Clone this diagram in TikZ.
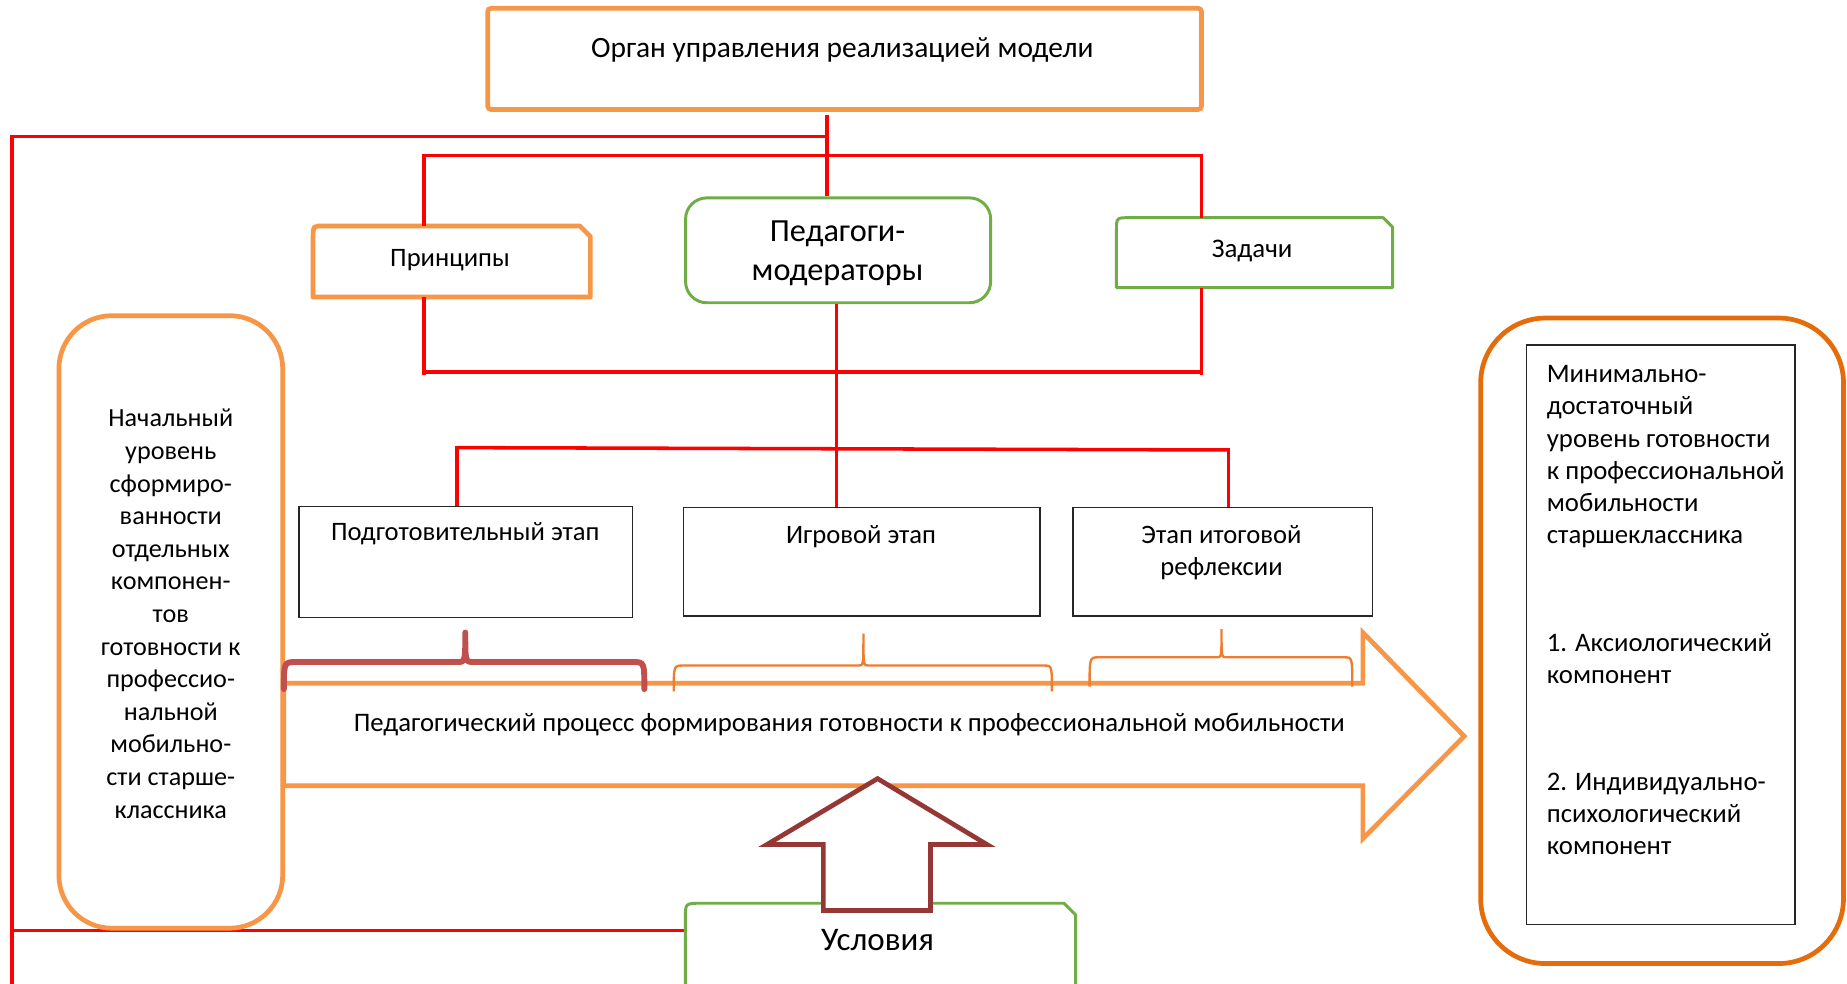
\documentclass[tikz,border=0pt]{standalone}
\usepackage{fontspec}
\setmainfont{Carlito}
\usetikzlibrary{calc}
\definecolor{orng}{HTML}{F79646}
\definecolor{dorng}{HTML}{E46C0A}
\definecolor{brc}{HTML}{ED7D31}
\definecolor{grn}{HTML}{70AD47}
\definecolor{rbrace}{HTML}{C0504D}
\definecolor{darr}{HTML}{953735}
\newcommand\snipoutline[4]{%
  \draw[#2] (#1.south west) -- ($(#1.north west)+(0,#3)$) .. controls (#1.north west) .. ($(#1.north west)+(#3,0)$)
    -- ($(#1.north east)+(-#4,0)$) -- ($(#1.north east)+(0,#4)$) -- (#1.south east) -- cycle;}
\newcommand\fs[2]{\fontsize{#1}{#2}\selectfont}
\tikzset{
  redl/.style={draw=red, line width=3pt},
  obox/.style={draw=orng, line width=4pt},
  gline/.style={draw=grn, line width=2.5pt, line join=round},
  kbox/.style={rectangle, draw=black!85, line width=1.2pt, inner sep=0pt},
  shapebox/.style={rectangle, inner sep=0pt},
  txt/.style={inner sep=0pt, align=center, text=black},
}
\begin{document}
\begin{tikzpicture}[x=1pt,y=-1pt]
\useasboundingbox (0,0) rectangle (1568,835);
\fill[white] (0,0) rectangle (1568,835);

% ---- top box
\node[shapebox, obox, rounded corners=3pt, minimum width=606pt, minimum height=86pt] (org) at (717,50) {};
\node[txt, font=\fs{25}{30}] (orgt) at (715,42) {Орган управления реализацией модели};

% ---- second row boxes
\node[shapebox, minimum width=235pt, minimum height=60pt] (pri) at (383.5,222) {};
\snipoutline{pri}{draw=orng, line width=4pt, line join=round}{9}{9}
\node[txt, font=\fs{22.6}{27}] (prit) at (382,221) {Принципы};

\node[shapebox, draw=grn, line width=2.5pt, rounded corners=18pt, minimum width=259pt, minimum height=89pt] (ped) at (711.5,212.5) {};
\node[txt, font=\fs{27.4}{33}] (pedt) at (711,215) {Педагоги-\\модераторы};

\node[shapebox, minimum width=234pt, minimum height=59pt] (zad) at (1065,214.5) {};
\snipoutline{zad}{gline}{11}{8}
\node[txt, font=\fs{22.8}{27}] (zadt) at (1063,213) {Задачи};

% ---- stage boxes
\node[kbox, minimum width=283pt, minimum height=94pt] (pod) at (395.5,477) {};
\node[txt, font=\fs{22.6}{27}, anchor=center] (podt) at (395,453) {Подготовительный этап};
\node[kbox, minimum width=303pt, minimum height=92pt] (igr) at (731.5,477) {};
\node[txt, font=\fs{22.6}{27}] (igrt) at (731,456) {Игровой этап};
\node[kbox, minimum width=254pt, minimum height=92pt] (itg) at (1038,477) {};
\node[txt, font=\fs{22.6}{27}] (itgt) at (1037,469.5) {Этап итоговой\\рефлексии};

% ---- conditions box (outline drawn later)
\node[shapebox, minimum width=331pt, minimum height=113pt] (usl) at (747.5,823.5) {};

% ---- red connectors
\coordinate (xc) at (702,0);
\coordinate (xl) at (10,0);
\coordinate (xp) at (360,0);
\coordinate (xz) at (1020,0);
\coordinate (xm) at (710,0);
\coordinate (xa) at (388,0);
\coordinate (xb) at (1043,0);
\coordinate (t0) at (702,98);
\coordinate (hl) at (10,116);
\coordinate (hb) at (10,790);
\coordinate (bot) at (10,840);
\draw[redl] (t0) -- (ped.north -| xc);
\draw[redl] (702,116) -- (hl) -- (bot);
\draw[redl] (hb) -- (usl.west |- hb);
\draw[redl] (pri.north -| xp) -- (360,132) -- (1020,132) -- (zad.north -| xz);
\draw[redl] (pri.south -| xp) -- (360,318);
\draw[redl] (360,316) -- (1020,316);
\draw[redl] (zad.south -| xz) -- (1020,318);
\draw[redl] (ped.south -| xm) -- (igr.north -| xm);
\draw[redl] (388,380) -- (1043,382);
\draw[redl] (388,378.5) -- (pod.north -| xa);
\draw[redl] (1043,380.5) -- (itg.north -| xb);

% ---- big process arrow
\draw[orng, line width=4pt, line join=miter] (241,580) -- (1157,580) -- (1157,537) -- (1243,625) -- (1157,712) -- (1157,667) -- (241,667) -- cycle;
\node[txt, font=\fs{22.7}{27}] (proc) at (721,615) {Педагогический процесс формирования готовности к профессиональной мобильности};

% ---- left box
\node[shapebox, draw=orng, line width=4pt, rounded corners=45pt, minimum width=190pt, minimum height=520pt] (lbox) at (145,528) {};
\node[txt, font=\fs{22.2}{27.67}] (lboxt) at (145,521) {Начальный\\уровень\\сформиро-\\ванности\\отдельных\\компонен-\\тов\\готовности к\\профессио-\\нальной\\мобильно-\\сти старше-\\классника};

% ---- braces
\draw[rbrace, line width=5pt, line cap=round, line join=round]
  (241,585) .. controls (241,562) .. (252,562) -- (388,562) .. controls (395,562) .. (395,537)
  .. controls (395,562) .. (402,562) -- (537,562) .. controls (547,562) .. (547,585);
\draw[brc, line width=2pt]
  (572,587) .. controls (572,565) .. (580,565) -- (729,565) .. controls (733,565) .. (733,538)
  .. controls (733,565) .. (737,565) -- (886,565) .. controls (893,565) .. (893,587);
\draw[brc, line width=2pt]
  (925,583) .. controls (925,558) .. (933,558) -- (1033,558) .. controls (1037,558) .. (1037,534)
  .. controls (1037,558) .. (1041,558) -- (1141,558) .. controls (1148,558) .. (1148,583);

% ---- conditions box and up arrow
\snipoutline{usl}{gline}{13}{10}
\draw[darr, line width=4pt, fill=white, line join=miter] (745,661) -- (838,717) -- (790,717) -- (790,773) -- (699,773) -- (699,717) -- (651,717) -- cycle;
\node[txt, font=\fs{28}{33}] (uslt) at (745,798) {Условия};

% ---- right panel
\node[shapebox, draw=dorng, line width=4pt, rounded corners=55pt, minimum width=308pt, minimum height=548pt] (rpo) at (1411,544) {};
\node[kbox, minimum width=228pt, minimum height=492pt] (rpi) at (1410,539) {};
\node[inner sep=0pt, align=left, anchor=north west, font=\fs{22.7}{27.4}] (rpit) at (1313,310)
  {Минимально-\\достаточный\\уровень готовности\\к профессиональной\\мобильности\\старшеклассника\\[64pt]1. Аксиологический\\компонент\\[63pt]2. Индивидуально-\\психологический\\компонент};
\end{tikzpicture}
\end{document}
